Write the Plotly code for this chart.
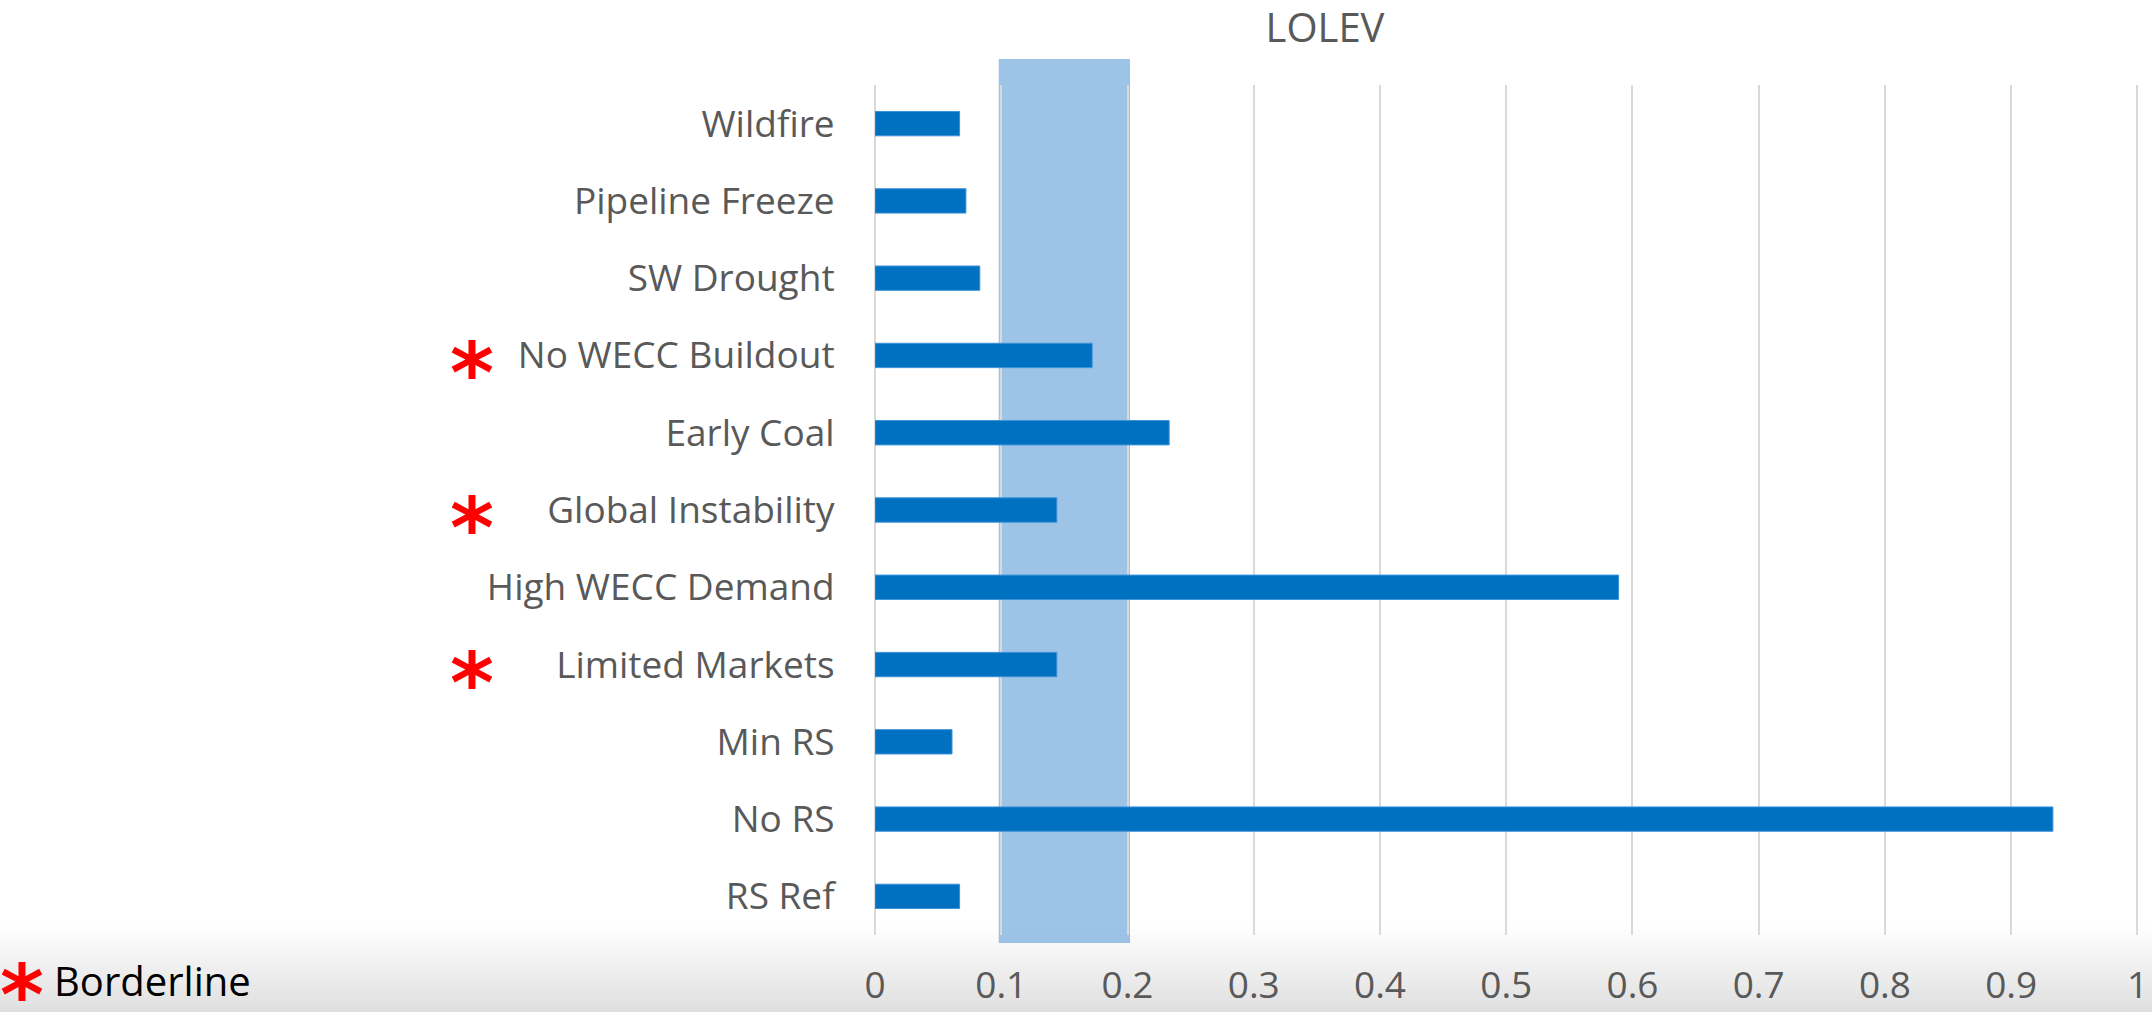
import plotly.graph_objects as go

categories = ["Wildfire", "Pipeline Freeze", "SW Drought", "No WECC Buildout", "Early Coal",
              "Global Instability", "High WECC Demand", "Limited Markets", "Min RS", "No RS", "RS Ref"]
lolev = [0.067, 0.072, 0.083, 0.172, 0.233, 0.144, 0.589, 0.144, 0.061, 0.933, 0.067]
borderline = ["No WECC Buildout", "Global Instability", "Limited Markets"]
tick_vals = [0, 0.1, 0.2, 0.3, 0.4, 0.5, 0.6, 0.7, 0.8, 0.9, 1]
tick_text = ["0", "0.1", "0.2", "0.3", "0.4", "0.5", "0.6", "0.7", "0.8", "0.9", "1"]
band_range = [0.1, 0.2]

W, H = 2152, 1012
L, R, T, B = 875, 12, 85, 77
pw, ph = W - L - R, H - T - B

def px_x(xp):
    return (xp - L) / pw

def px_y(yp):
    return (H - B - yp) / ph

FONT = "Open Sans"
GREY = "#595959"

fig = go.Figure()
fig.add_trace(go.Bar(
    y=categories, x=lolev, orientation="h",
    marker=dict(color="#0070C0", line=dict(color="#3C92D8", width=1)),
    width=0.315, hoverinfo="x+y",
))

shapes = []
# background gradient at the bottom of the slide
n = 30
y_start, y_end = 925, H + 2
for i in range(n):
    y0 = y_start + (y_end - y_start) * i / n
    y1 = y_start + (y_end - y_start) * (i + 1) / n
    c = int(round(255 - (255 - 222) * (i + 0.5) / n))
    shapes.append(dict(type="rect", xref="paper", yref="paper",
                       x0=px_x(-40), x1=px_x(W + 40), y0=px_y(y1 + 0.5), y1=px_y(y0),
                       fillcolor=f"rgb({c},{c},{c})", line=dict(width=0), layer="below"))

band = dict(type="rect", xref="x", yref="paper",
            x0=band_range[0] - 0.002, x1=band_range[1] + 0.002,
            y0=px_y(943), y1=px_y(59),
            fillcolor="rgba(91,155,213,0.6)", line=dict(width=0), layer="between")

fig.update_layout(shapes=shapes)
try:
    fig.add_shape(**band)
except Exception:
    band["layer"] = "below"
    band["fillcolor"] = "rgb(157,195,230)"
    fig.add_shape(**band)

annotations = []
for cat in borderline:
    annotations.append(dict(x=px_x(472), xref="paper", y=cat, yref="y",
                            text="<b>*</b>", showarrow=False, xanchor="center", yanchor="middle",
                            font=dict(family="DejaVu Sans", size=84, color="#FF0000"),
                            yshift=-18))
annotations.append(dict(x=px_x(22), xref="paper", y=px_y(977), yref="paper",
                        text="<b>*</b>", showarrow=False, xanchor="center", yanchor="middle",
                        font=dict(family="DejaVu Sans", size=84, color="#FF0000"),
                        yshift=-18))
annotations.append(dict(x=px_x(52), xref="paper", y=px_y(980), yref="paper",
                        text="Borderline", showarrow=False, xanchor="left", yanchor="middle",
                        font=dict(family=FONT, size=40, color="#000000")))

fig.update_layout(
    width=W, height=H,
    margin=dict(l=L, r=R, t=T, b=B, pad=0, autoexpand=False),
    paper_bgcolor="white", plot_bgcolor="rgba(0,0,0,0)",
    showlegend=False,
    title=dict(text="LOLEV", x=1325 / W, xref="container", xanchor="center",
               y=1 - 28 / H, yref="container", yanchor="middle",
               font=dict(family=FONT, size=40, color=GREY)),
    xaxis=dict(range=[0, 1.002], tickvals=tick_vals, ticktext=tick_text,
               showgrid=True, gridcolor="#D9D9D9", gridwidth=2,
               zeroline=True, zerolinecolor="#D9D9D9", zerolinewidth=2,
               showline=False, ticks="outside", ticklen=18, tickcolor="rgba(0,0,0,0)",
               tickfont=dict(family=FONT, size=37, color=GREY), fixedrange=True,
               automargin=False),
    yaxis=dict(type="category", autorange="reversed", categoryorder="array",
               categoryarray=categories, showgrid=False, zeroline=False, showline=False,
               ticks="outside", ticklen=32, tickcolor="rgba(0,0,0,0)",
               tickfont=dict(family=FONT, size=37, color=GREY), fixedrange=True,
               automargin=False),
    annotations=annotations,
)

fig.write_html("out.html")
